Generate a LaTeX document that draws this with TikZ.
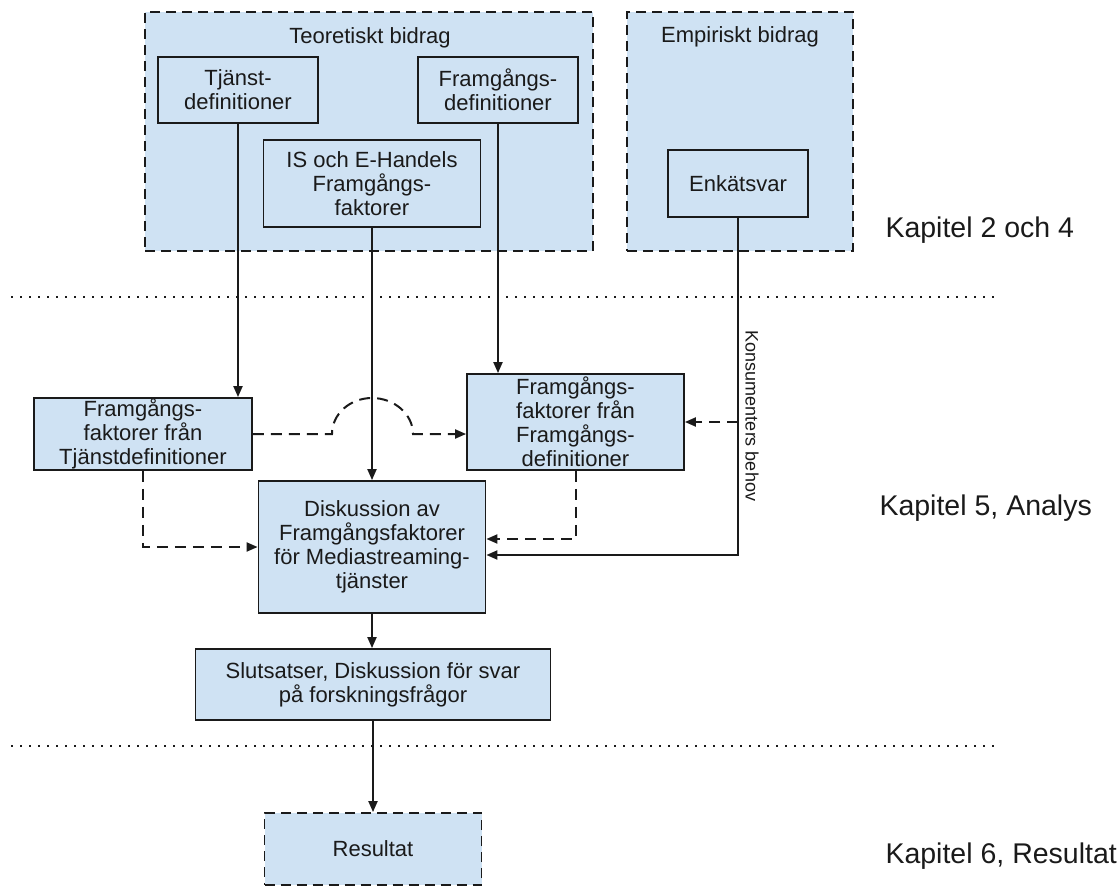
\documentclass[tikz,border=0pt]{standalone}
\usepackage{fontspec}
\setmainfont{Liberation Sans}
\usetikzlibrary{arrows.meta,calc}
\definecolor{boxfill}{HTML}{CFE2F3}
\definecolor{ink}{HTML}{1A1A1A}

\begin{document}
\begin{tikzpicture}[x=1pt,y=-1pt,
  box/.style={draw=ink, line width=1.8pt, fill=boxfill, align=center, inner sep=0pt,
              font=\fontsize{22}{24}\selectfont, text=ink},
  group/.style={box, dash pattern=on 10pt off 6pt},
  flow/.style={draw=ink, line width=2pt, -{Triangle[length=11pt,width=9pt]}},
  dflow/.style={flow, dash pattern=on 11pt off 7pt},
  sep/.style={draw=ink, line width=2.2pt, dash pattern=on 2pt off 7pt},
  chapter/.style={anchor=base west, font=\fontsize{28.5}{30}\selectfont, text=ink},
  title/.style={anchor=base, font=\fontsize{22}{24}\selectfont, text=ink}
]
\useasboundingbox (0,0) rectangle (1119,886);

% contribution groups
\node[group, minimum width=448pt, minimum height=239pt] (teo) at (369,131.5) {};
\node[group, minimum width=226pt, minimum height=239pt] (emp) at (740,131.5) {};
\node[title] (teoT) at (370,43) {Teoretiskt bidrag};
\node[title] (empT) at (740,42) {Empiriskt bidrag};

% sources
\node[box, minimum width=160pt, minimum height=66pt] (tj) at (238,90) {Tjänst-\\definitioner};
\node[box, minimum width=160pt, minimum height=66pt] (fd) at (498,90) {Framgångs-\\definitioner};
\node[box, minimum width=217pt, minimum height=87pt] (is) at (372,183.5) {IS och E-Handels\\Framgångs-\\faktorer};
\node[box, minimum width=140pt, minimum height=67pt] (enk) at (738,183.5) {Enkätsvar};

% analysis
\node[box, minimum width=218pt, minimum height=72pt] (ft) at (143,434) {Framgångs-\\faktorer från\\Tjänstdefinitioner};
\node[box, minimum width=217pt, minimum height=96pt] (ff) at (575.5,422) {Framgångs-\\faktorer från\\Framgångs-\\definitioner};
\node[box, minimum width=227pt, minimum height=132pt] (disk) at (372,547) {Diskussion av\\Framgångsfaktorer\\för Mediastreaming-\\tjänster};
\node[box, minimum width=355pt, minimum height=71pt] (slut) at (373,684.5) {Slutsatser, Diskussion för svar\\på forskningsfrågor};

% result
\node[group, minimum width=217pt, minimum height=72pt] (res) at (373,849) {Resultat};

% chapter separators
\coordinate (s1a) at (11,297);
\coordinate (s1b) at (995,297);
\coordinate (s2a) at (11,746);
\coordinate (s2b) at (995,746);
\draw[sep] (s1a) -- (s1b);
\draw[sep] (s2a) -- (s2b);

% solid flows
\draw[flow] (tj.south) -- (tj.south |- ft.north);
\draw[flow] (is.south) -- (is.south |- disk.north);
\draw[flow] (fd.south) -- (fd.south |- ff.north);
\draw[flow] (enk.south) |- ([yshift=-8pt]disk.east);
\draw[flow] (disk.south) -- (disk.south |- slut.north);
\draw[flow] (slut.south) -- (slut.south |- res.north);

% dashed flows
\draw[dflow] (ft.south) |- (disk.west);
\draw[dflow] (ff.south) |- ([yshift=8pt]disk.east);
\coordinate (tap) at (enk.south |- ff.east);
\draw[dflow] (tap) -- (ff.east);
\coordinate (hopL) at (332,434);
\coordinate (hopR) at (413,434);
\draw[dflow] (ft.east) -- (hopL) .. controls (332,414) and (350,398) .. (372,398)
  .. controls (394,398) and (413,414) .. (hopR) -- (hopR -| ff.west);

% labels
\node[rotate=-90, font=\fontsize{18}{20}\selectfont, text=ink] (kb) at (752,416) {Konsumenters behov};
\node[chapter] (k1) at (882,237) {Kapitel 2 och 4};
\node[chapter] (k2) at (876,515) {Kapitel 5, Analys};
\node[chapter] (k3) at (882,863) {Kapitel 6, Resultat};
\end{tikzpicture}
\end{document}
